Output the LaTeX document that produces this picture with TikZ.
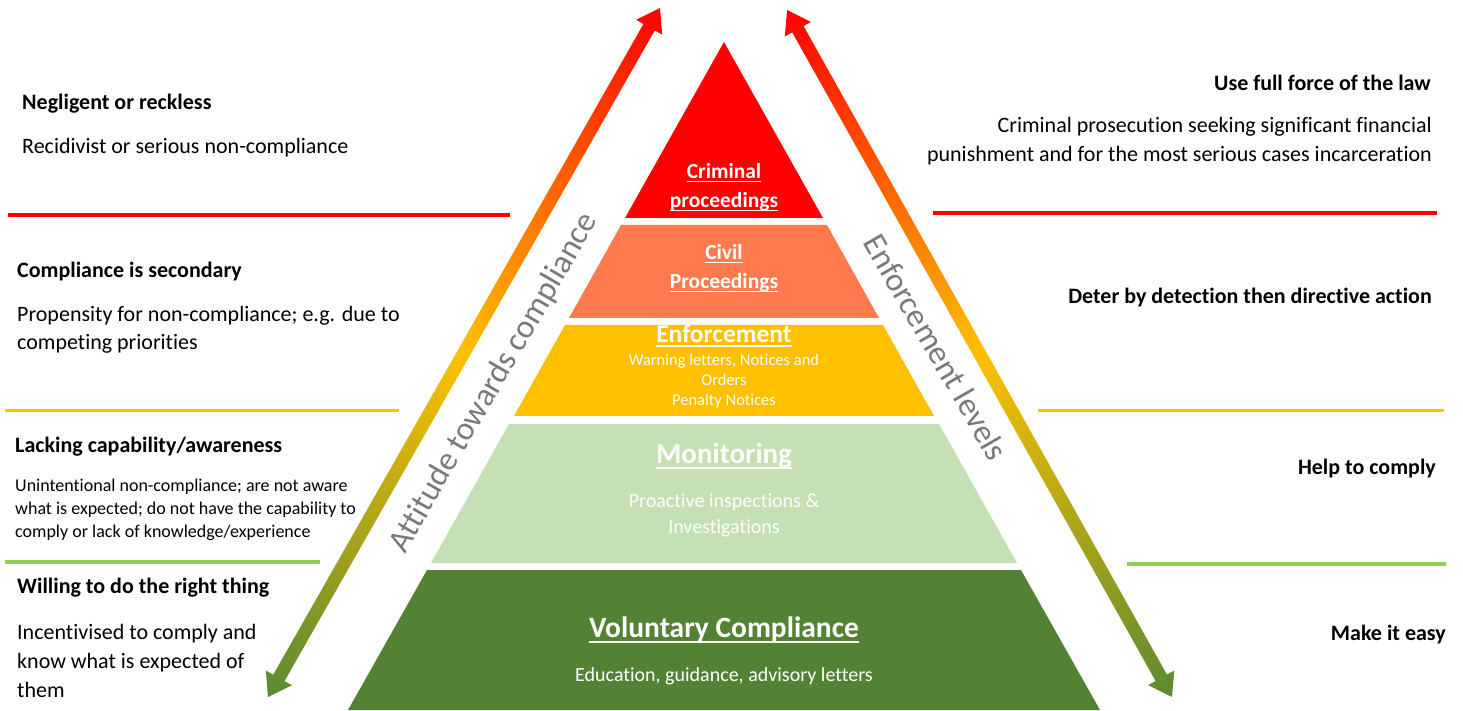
\documentclass[tikz,border=0pt]{standalone}
\usepackage{fontspec}
\setmainfont{Carlito}[Ligatures=NoCommon]

\definecolor{critred}{HTML}{FF0000}
\definecolor{civilorange}{HTML}{FF7B4F}
\definecolor{enfgold}{HTML}{FFC000}
\definecolor{monlight}{HTML}{C5E0B4}
\definecolor{volgreen}{HTML}{548235}
\definecolor{sepgreen}{HTML}{92D050}
\definecolor{arrowgreen}{HTML}{5B8A32}
\definecolor{labelgrey}{HTML}{7A7A7A}

\newcommand{\fsz}[2]{\fontsize{#1}{#2}\selectfont}
\newcommand{\undl}[1]{\leavevmode\setbox0\hbox{#1}\rlap{\rule[-0.17em]{\wd0}{0.07em}}\box0}
% double headed arrow pointing up, length #1
\newcommand{\twohead}[1]{%
  \shade[bigarrow] (0,0) -- (15,22) -- (6.5,22) -- (6.5,#1-22) -- (15,#1-22) -- (0,#1)
    -- (-15,#1-22) -- (-6.5,#1-22) -- (-6.5,22) -- (-15,22) -- cycle;}

\tikzset{
  heading/.style={font=\bfseries\fsz{22}{26}},
  body/.style={font=\fsz{22}{28.5}},
  tiertitle/.style={text=white, font=\bfseries\fsz{21.5}{29}},
  tiertext/.style={text=white, font=\fsz{20}{26}},
  sepline/.style={line width=3.5pt},
  sidelabel/.style={text=labelgrey, font=\fsz{33}{40}},
  bigarrow/.style={bottom color=arrowgreen, top color=critred, middle color=enfgold}
}

\begin{document}
\begin{tikzpicture}[x=1pt,y=1pt]

  \fill[white] (0,0) rectangle (1463,710);
  \useasboundingbox (0,0) rectangle (1463,710);

  % pyramid
  \fill[critred]     (724,668) -- (823,492) -- (625,492) -- cycle;
  \fill[civilorange] (621,485) -- (827,485) -- (879,392) -- (569,392) -- cycle;
  \fill[enfgold]     (565,385) -- (883,385) -- (934,294) -- (514,294) -- cycle;
  \fill[monlight]    (509,286) -- (939,286) -- (1017,147) -- (431,147) -- cycle;
  \fill[volgreen]    (427,140) -- (1021,140) -- (1100,0) -- (348,0) -- cycle;

  % arrows
  \begin{scope}[transform canvas={shift={(268pt,13pt)},rotate=-29.64}]
    \twohead{792.7}
  \end{scope}
  \begin{scope}[transform canvas={shift={(1172pt,13pt)},rotate=29.26}]
    \twohead{787.5}
  \end{scope}

  \node[sidelabel, rotate=60]  (attlabel) at (494,327) {Attitude towards compliance};
  \node[sidelabel, rotate=-60] (enflabel) at (936,363) {Enforcement levels};

  % separators
  \draw[sepline, critred]  (8,495) -- (510,495);
  \draw[sepline, enfgold]  (5,299.5) -- (399,299.5);
  \draw[sepline, sepgreen] (5,148) -- (320,148);
  \draw[sepline, critred]  (933,497) -- (1437,497);
  \draw[sepline, enfgold]  (1038,299.5) -- (1444,299.5);
  \draw[sepline, sepgreen] (1127,146) -- (1446,146);

  \begin{scope}[every node/.style={align=center, inner sep=0pt}]
    \node[tiertitle] (crimtitle) at (724,522.5) {\undl{Criminal}\\\undl{proceedings}};
    \node[tiertitle] (civtitle)  at (724,441.5) {\undl{Civil}\\\undl{Proceedings}};
    \node[tiertitle, font=\bfseries\fsz{25.5}{30}] (enftitle) at (724,374) {\undl{Enforcement}};
    \node[tiertext, font=\fsz{16.5}{20}] (enftext) at (724,329) {Warning letters, Notices and\\Orders\\Penalty Notices};
    \node[tiertitle, font=\bfseries\fsz{29}{35}] (montitle) at (724,254) {\undl{Monitoring}};
    \node[tiertext] (montext) at (724,195) {Proactive inspections \&\\Investigations};
    \node[tiertitle, font=\bfseries\fsz{29.5}{35}] (voltitle) at (724,80) {\undl{Voluntary Compliance}};
    \node[tiertext] (voltext) at (724,34) {Education, guidance, advisory letters};
  \end{scope}

  \begin{scope}[every node/.style={anchor=west, align=left, inner sep=0pt}]
    \node[heading] (neglhead) at (22,606) {Negligent or reckless};
    \node[body]    (negltext) at (22,562) {Recidivist or serious non-compliance};
    \node[heading] (sechead)  at (17,438) {Compliance is secondary};
    \node[body]    (sectext)  at (17,380) {Propensity for non-compliance; e.g. due to\\competing priorities};
    \node[heading] (lackhead) at (15,263) {Lacking capability/awareness};
    \node[body, font=\fsz{18}{23}] (lacktext) at (15,200) {Unintentional non-compliance; are not aware\\what is expected; do not have the capability to\\comply or lack of knowledge/experience};
    \node[heading] (willhead) at (17,122) {Willing to do the right thing};
    \node[body, font=\fsz{22}{29}] (willtext) at (17,49) {Incentivised to comply and\\know what is expected of\\them};
  \end{scope}

  \begin{scope}[every node/.style={anchor=east, align=right, inner sep=0pt}]
    \node[heading] (lawhead)   at (1431,627) {Use full force of the law};
    \node[body, font=\fsz{22}{29}] (lawtext) at (1432,568.5) {Criminal prosecution seeking significant financial\\punishment and for the most serious cases incarceration};
    \node[heading] (deterhead) at (1432,412) {Deter by detection then directive action};
    \node[heading] (helphead)  at (1436,241) {Help to comply};
    \node[heading] (easyhead)  at (1446,75)  {Make it easy};
  \end{scope}

\end{tikzpicture}
\end{document}
